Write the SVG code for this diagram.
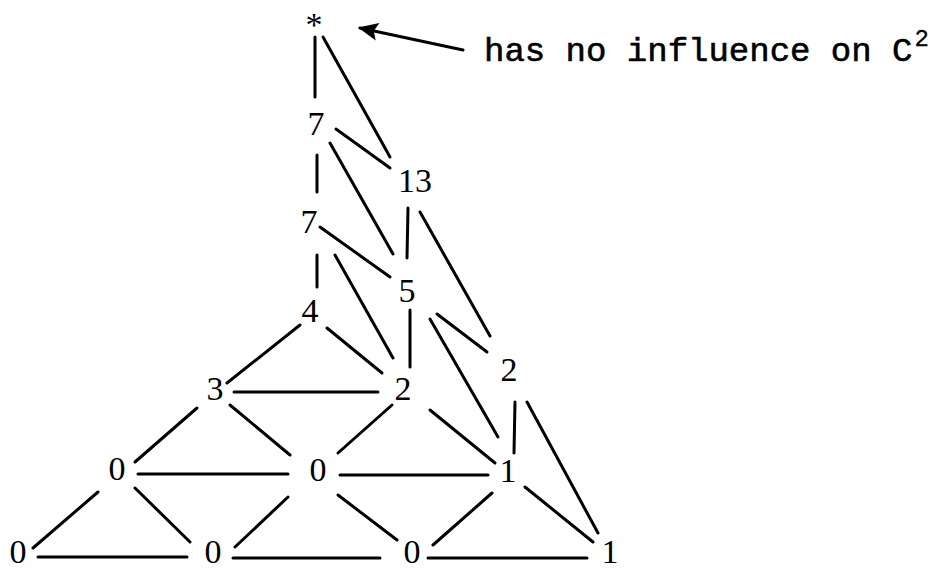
<svg xmlns="http://www.w3.org/2000/svg" width="942" height="570" viewBox="0 0 942 570">
<style>
.n{font-family:"Liberation Serif","Times New Roman",serif;font-size:34px;fill:#000;text-anchor:middle}
.c line{stroke:#000;stroke-width:3;stroke-linecap:round}
.lbl{font-family:"Liberation Mono","Courier New",monospace;font-size:34px;fill:#000;stroke:#000;stroke-width:0.6}
</style>
<defs>
<marker id="ah" markerUnits="userSpaceOnUse" markerWidth="24" markerHeight="20" refX="20" refY="9" orient="auto">
<path d="M22,9 L2,0 L6,9 L2,18 Z" fill="#000"/>
</marker>
</defs>
<rect width="942" height="570" fill="#fff"/>
<g id="connectors" class="c">
<line x1="315" y1="37" x2="315" y2="97"/>
<line x1="323" y1="37" x2="390" y2="157"/>
<line x1="336" y1="129" x2="390" y2="168"/>
<line x1="330" y1="143" x2="393" y2="254"/>
<line x1="317" y1="155" x2="317" y2="192"/>
<line x1="408" y1="208" x2="407" y2="258"/>
<line x1="420" y1="212" x2="490" y2="336"/>
<line x1="320" y1="227" x2="390" y2="277"/>
<line x1="317" y1="255" x2="317" y2="287"/>
<line x1="335" y1="255" x2="393" y2="358"/>
<line x1="410" y1="310" x2="410" y2="367"/>
<line x1="437" y1="314" x2="487" y2="352"/>
<line x1="430" y1="319" x2="498" y2="437"/>
<line x1="327" y1="328" x2="382" y2="373"/>
<line x1="300" y1="325" x2="227" y2="383"/>
<line x1="234" y1="392" x2="378" y2="392"/>
<line x1="392" y1="405" x2="338" y2="453"/>
<line x1="430" y1="410" x2="495" y2="463"/>
<line x1="197" y1="408" x2="135" y2="462"/>
<line x1="230" y1="405" x2="290" y2="455"/>
<line x1="138" y1="474" x2="288" y2="474"/>
<line x1="340" y1="475" x2="488" y2="475"/>
<line x1="515" y1="402" x2="514" y2="453"/>
<line x1="527" y1="402" x2="598" y2="533"/>
<line x1="525" y1="487" x2="593" y2="542"/>
<line x1="492" y1="493" x2="433" y2="545"/>
<line x1="428" y1="558" x2="587" y2="558"/>
<line x1="338" y1="495" x2="397" y2="540"/>
<line x1="288" y1="497" x2="235" y2="547"/>
<line x1="233" y1="558" x2="380" y2="558"/>
<line x1="135" y1="488" x2="190" y2="542"/>
<line x1="98" y1="492" x2="33" y2="548"/>
<line x1="38" y1="557" x2="187" y2="557"/>
<line x1="463" y1="50" x2="360" y2="28" stroke-width="4" marker-end="url(#ah)"/>
</g>
<g id="n-star"><text class="n" x="314" y="36">*</text></g>
<g id="n-7a"><text class="n" x="316" y="135">7</text></g>
<g id="n-13"><text class="n" x="415" y="192">13</text></g>
<g id="n-7b"><text class="n" x="309" y="233">7</text></g>
<g id="n-5"><text class="n" x="407" y="302">5</text></g>
<g id="n-4"><text class="n" x="310" y="322">4</text></g>
<g id="n-3"><text class="n" x="215" y="400">3</text></g>
<g id="n-2m"><text class="n" x="403" y="400">2</text></g>
<g id="n-2r"><text class="n" x="509" y="381">2</text></g>
<g id="n-0L"><text class="n" x="117" y="480">0</text></g>
<g id="n-0m"><text class="n" x="318" y="481">0</text></g>
<g id="n-1m"><text class="n" x="508" y="482">1</text></g>
<g id="n-0a"><text class="n" x="18" y="563">0</text></g>
<g id="n-0b"><text class="n" x="213" y="563">0</text></g>
<g id="n-0c"><text class="n" x="412" y="563">0</text></g>
<g id="n-1b"><text class="n" x="610" y="563">1</text></g>
<g id="annotation"><text class="lbl" x="484" y="61">has no influence on C<tspan font-size="24" dy="-15" dx="2" stroke-width="0.3">2</tspan></text></g>
</svg>
